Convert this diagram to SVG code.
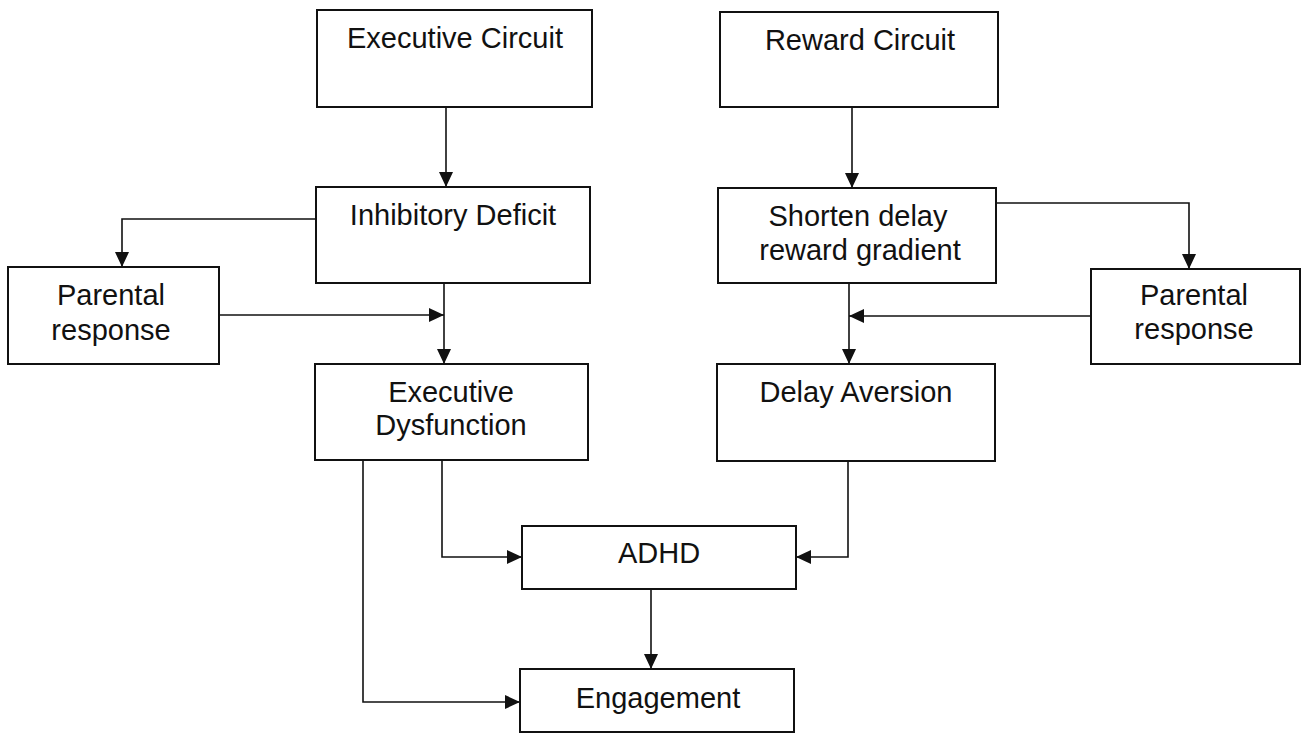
<svg xmlns="http://www.w3.org/2000/svg" width="1302" height="734" viewBox="0 0 1302 734">
<style>
.box{fill:#fff;stroke:#111;stroke-width:2}
.lbl{font-family:"Liberation Sans",Arial,sans-serif;font-size:29px;fill:#111;text-anchor:middle}
.con{fill:none;stroke:#111;stroke-width:1.6;marker-end:url(#ah)}
</style>
<defs>
<marker id="ah" markerUnits="userSpaceOnUse" markerWidth="16" markerHeight="14" refX="15" refY="7" orient="auto">
<path d="M0,0 L15,7 L0,14 Z" fill="#111"/>
</marker>
</defs>
<rect width="1302" height="734" fill="#fff"/>
<g id="connectors">
<path class="con" d="M446,107 V187"/>
<path class="con" d="M852,107 V188"/>
<path class="con" d="M316,219 H122 V267"/>
<path class="con" d="M444,283 V364"/>
<path class="con" d="M219,315 H444"/>
<path class="con" d="M996,203 H1189 V269"/>
<path class="con" d="M849,283 V364"/>
<path class="con" d="M1091,316 H849"/>
<path class="con" d="M442,460 V557 H522"/>
<path class="con" d="M848,461 V557 H796"/>
<path class="con" d="M651,589 V669"/>
<path class="con" d="M363,460 V702 H520"/>
</g>
<g id="exec-circuit"><rect class="box" x="317" y="10" width="275" height="97"/><text class="lbl" x="455" y="48">Executive Circuit</text></g>
<g id="reward-circuit"><rect class="box" x="720" y="12" width="278" height="95"/><text class="lbl" x="860" y="50">Reward Circuit</text></g>
<g id="inhibitory"><rect class="box" x="316" y="187" width="274" height="96"/><text class="lbl" x="453" y="225">Inhibitory Deficit</text></g>
<g id="shorten"><rect class="box" x="718" y="188" width="278" height="95"/><text class="lbl" x="858" y="226">Shorten delay</text><text class="lbl" x="860" y="260">reward gradient</text></g>
<g id="parental-left"><rect class="box" x="8" y="267" width="211" height="97"/><text class="lbl" x="111" y="305">Parental</text><text class="lbl" x="111" y="340">response</text></g>
<g id="parental-right"><rect class="box" x="1091" y="269" width="209" height="95"/><text class="lbl" x="1194" y="305">Parental</text><text class="lbl" x="1194" y="339">response</text></g>
<g id="exec-dysfunction"><rect class="box" x="315" y="364" width="273" height="96"/><text class="lbl" x="451" y="402">Executive</text><text class="lbl" x="451" y="435">Dysfunction</text></g>
<g id="delay-aversion"><rect class="box" x="717" y="364" width="278" height="97"/><text class="lbl" x="856" y="402">Delay Aversion</text></g>
<g id="adhd"><rect class="box" x="522" y="526" width="274" height="63"/><text class="lbl" x="659" y="563">ADHD</text></g>
<g id="engagement"><rect class="box" x="520" y="669" width="274" height="63"/><text class="lbl" x="658" y="708">Engagement</text></g>
</svg>
